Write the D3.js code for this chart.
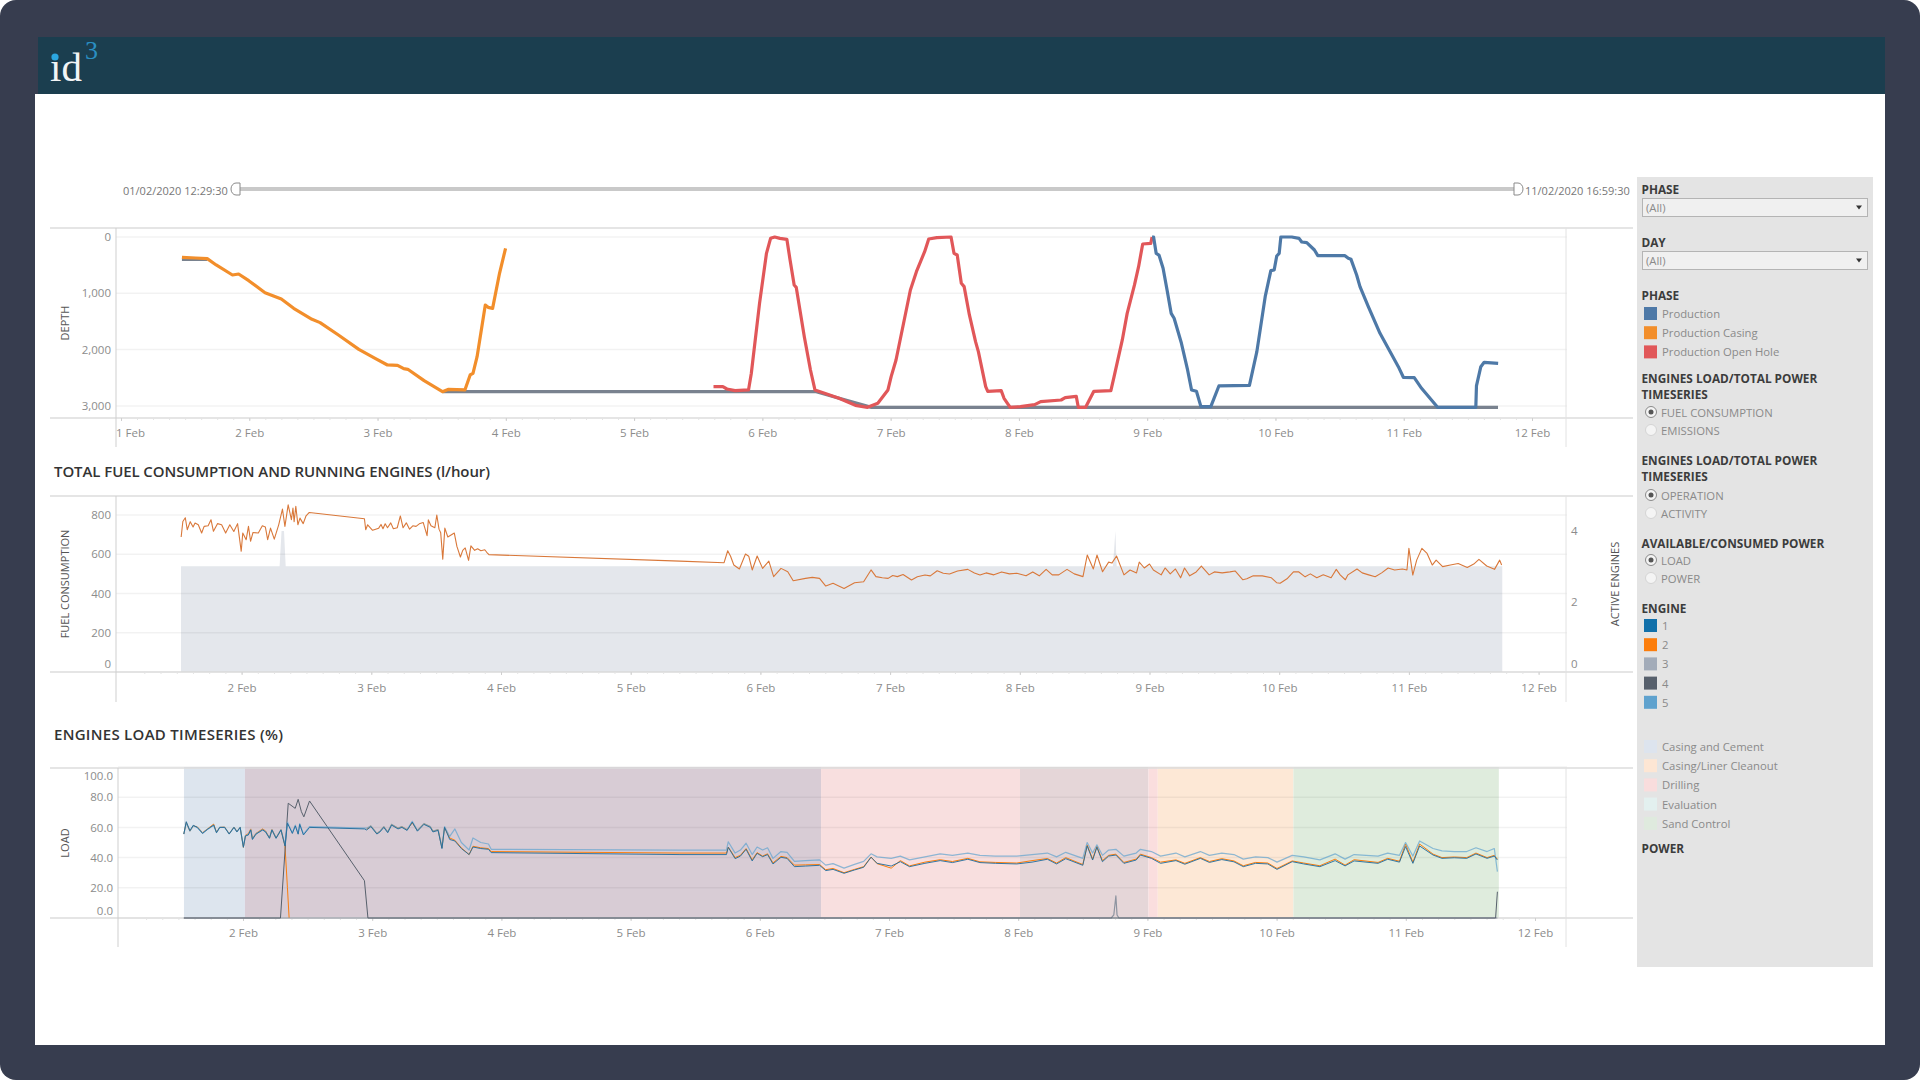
<!DOCTYPE html>
<html>
<head>
<meta charset="utf-8">
<title>Engines dashboard</title>
<script src="https://cdn.jsdelivr.net/npm/d3@7"></script>
<style>
  html, body { margin: 0; background: #fff; overflow: hidden; }
  svg { display: block; font-family: "Open Sans", sans-serif; }
  .tick text { fill: #8c8c8c; font-size: 11.5px; font-family: "Open Sans", sans-serif; }
  .axisTitle { fill: #555; font-size: 11px; text-anchor: middle; }
  .chartTitle { fill: #333; font-size: 15px; font-weight: 600; }
  .sideHead { fill: #3c3c3c; font-size: 11.8px; font-weight: 700; }
  .sideText { fill: #8a8a8a; font-size: 11.3px; }
</style>
</head>
<body>
<div id="dashboard"></div>
<script>
var svgWidth = 1920;
var svgHeight = 1080;

// depth chart
var casingDays = [1.475,1.583,1.672,1.742,1.869,1.917,1.996,2.123,2.25,2.346,2.489,2.552,2.695,2.854,2.981,3.077,3.156,3.204,3.236,3.363,3.506,3.554,3.681,3.722,3.744,3.776,3.84,3.862,3.897,3.951,3.998];
var casingDepth = [361,373,385,497,675,657,776,989,1101,1267,1462,1521,1740,1995,2155,2273,2279,2338,2350,2552,2747,2705,2717,2451,2421,2125,1208,1249,1267,645,201];
var openHoleDays = [5.619,5.692,5.724,5.787,5.892,5.914,5.978,6.032,6.064,6.096,6.137,6.191,6.216,6.248,6.264,6.327,6.375,6.41,6.502,6.597,6.725,6.82,6.9,6.979,7.004,7.042,7.106,7.154,7.201,7.265,7.297,7.36,7.471,7.494,7.519,7.551,7.573,7.614,7.662,7.684,7.741,7.757,7.862,7.884,7.932,8.012,8.123,8.17,8.329,8.361,8.447,8.463,8.52,8.584,8.717,8.742,8.806,8.844,8.901,8.933,8.965,9.028,9.038];
var openHoleDepth = [2658,2658,2700,2729,2717,2421,1178,290,24,0,24,41,408,852,894,1770,2362,2717,2788,2865,2990,3025,2954,2717,2480,2184,1474,941,616,260,36,12,0,290,320,823,882,1385,1859,2036,2658,2741,2729,2865,3025,3013,2978,2924,2895,2853,2830,3025,3025,2741,2729,2480,1829,1356,852,527,124,112,0];
var productionDays = [9.038,9.05,9.07,9.092,9.124,9.155,9.187,9.21,9.267,9.315,9.346,9.384,9.419,9.496,9.559,9.797,9.855,9.92,9.964,9.99,10.01,10.029,10.042,10.127,10.184,10.205,10.244,10.304,10.33,10.542,10.568,10.589,10.633,10.659,10.724,10.815,10.958,10.997,11.082,11.139,11.264,11.562,11.567,11.601,11.627,11.736];
var productionDepth = [0,0,290,320,556,941,1356,1444,1888,2362,2717,2741,3013,3013,2646,2634,2036,1060,598,586,337,290,0,0,24,89,100,231,331,331,379,397,675,882,1237,1711,2303,2492,2498,2688,3025,3025,2646,2303,2226,2244];
var holeDays = [1.475,1.672,2,3.506,6.42,6.85,11.735];
var holeDepth = [400,400,null,2747,2748,3026,3026];

// fuel chart
var fuelDays = [
  1.534,1.547,1.566,1.581,1.604,1.626,1.641,1.666,1.692,1.711,
  1.742,1.764,1.783,1.814,1.846,1.877,1.909,1.94,1.969,1.997,
  2.009,2.035,2.053,2.069,2.088,2.129,2.16,2.183,2.201,2.223,
  2.252,2.286,2.315,2.334,2.359,2.384,2.396,2.405,2.418,2.434,
  2.45,2.475,2.497,2.522,2.947,2.957,2.972,3.01,3.057,3.075,
  3.09,3.107,3.125,3.15,3.17,3.2,3.224,3.245,3.27,3.295,
  3.32,3.345,3.37,3.4,3.43,3.44,3.46,3.49,3.505,3.522,
  3.535,3.551,3.567,3.59,3.64,3.66,3.687,3.705,3.724,3.75,
  3.768,3.797,3.82,3.845,3.875,3.89,3.907,5.38,5.72,5.748,
  5.77,5.795,5.838,5.885,5.91,5.937,5.975,6.017,6.065,6.102,
  6.159,6.211,6.253,6.348,6.4,6.456,6.504,6.56,6.6,6.645,
  6.726,6.796,6.853,6.891,6.94,6.985,7.02,7.056,7.1,7.165,
  7.21,7.269,7.31,7.363,7.41,7.458,7.52,7.599,7.65,7.693,
  7.74,7.8,7.86,7.92,7.977,8.048,8.1,8.15,8.203,8.25,
  8.3,8.364,8.42,8.487,8.52,8.567,8.595,8.638,8.685,8.71,
  8.746,8.803,8.85,8.9,8.921,8.96,9.0,9.03,9.09,9.12,
  9.16,9.2,9.24,9.27,9.31,9.36,9.4,9.46,9.5,9.56,
  9.62,9.66,9.72,9.75,9.8,9.87,9.94,9.98,10.007,10.06,
  10.11,10.149,10.2,10.24,10.29,10.34,10.4,10.44,10.47,10.51,
  10.53,10.6,10.64,10.69,10.74,10.79,10.84,10.89,10.95,10.985,
  11.0,11.03,11.06,11.1,11.14,11.18,11.21,11.26,11.32,11.38,
  11.45,11.5,11.54,11.6,11.66,11.7,11.715
];
var fuelValues = [
  688,767,786,725,766,739,759,750,708,742,
  745,776,717,756,750,708,750,716,756,615,
  708,674,742,666,711,708,745,739,674,733,
  677,750,830,742,852,776,835,766,844,750,
  784,756,796,813,781,725,750,722,733,752,
  730,755,735,760,730,735,795,735,760,728,
  745,742,755,762,695,775,745,735,800,728,
  710,575,733,688,708,640,586,620,632,569,
  643,620,628,618,623,610,598,565,557,618,
  590,545,525,601,590,520,591,528,565,486,
  528,511,465,477,482,477,438,452,440,426,
  455,460,520,486,480,477,492,486,497,469,
  485,494,490,516,503,499,515,523,505,494,
  505,495,510,500,503,490,510,490,523,495,
  495,523,500,486,596,525,596,511,560,555,
  591,495,520,505,560,530,550,520,495,530,
  500,525,480,530,490,510,540,495,510,505,
  510,515,470,475,490,490,480,455,452,475,
  510,511,485,500,480,495,480,523,495,470,
  495,525,505,495,485,505,530,520,525,520,
  630,494,570,630,604,545,570,537,545,553,
  533,550,574,540,523,570,545
];
var engineDays = [1.533,2.293,2.308,2.327,2.34,8.718,8.737,8.747,11.72];
var engineCount = [3,3,4,4,3,3,4,3,3];

// load chart
var loadDays = [
  1.542,1.561,1.589,1.615,1.646,1.687,1.725,1.773,1.795,1.82,
  1.858,1.893,1.93,1.953,1.978,2.003,2.019,2.041,2.06,2.073,
  2.1,2.152,2.175,2.205,2.224,2.256,2.294,2.325,2.344,2.357,
  2.382,2.405,2.427,2.439,2.468,2.515,2.94,2.957,2.99,3.036,
  3.06,3.09,3.12,3.15,3.2,3.23,3.27,3.31,3.35,3.4,
  3.45,3.47,3.51,3.54,3.56,3.6,3.64,3.69,3.75,3.78,
  3.84,3.9,3.921,5.382,5.742,5.756,5.809,5.85,5.894,5.941,
  5.979,6.022,6.06,6.102,6.164,6.211,6.268,6.354,6.463,6.51,
  6.567,6.652,6.733,6.804,6.861,6.908,7.017,7.088,7.159,7.278,
  7.396,7.491,7.61,7.704,7.823,7.989,8.107,8.226,8.297,8.368,
  8.5,8.534,8.576,8.609,8.652,8.7,8.756,8.818,8.913,8.946,
  9.031,9.102,9.221,9.29,9.41,9.48,9.576,9.67,9.742,9.837,
  9.932,10.003,10.121,10.21,10.335,10.453,10.53,10.6,10.785,10.86,
  10.951,10.998,11.055,11.107,11.211,11.28,11.375,11.472,11.543,11.629,
  11.685,11.709
];
var engine1Load = [
  55.6,63.8,57.8,61.4,60,56,58.7,61.6,56.5,60,
  60,55.6,60,57,60,46.8,54.3,55,58.3,52,
  55.5,58.3,57,52.8,58.3,52.8,58.3,47.7,62.7,60.5,
  56,61,55.5,62,55,60,59,58.3,60.5,55.6,
  57,60,56.5,61.5,59,60,58,63.5,57.5,62,
  60,57,58,46,60,52,51,46,42,47,
  46,45.5,43.3,42,42,46.8,39.3,41,45.5,37.8,
  42.8,40.6,42,35.8,40.2,39.5,34,34.4,34.9,31.4,
  32.2,29.6,31.8,33.6,40.2,36.2,34.4,37.3,34,36.2,
  38,36.7,38.9,36.7,36.2,35.8,37,38.9,35.8,39.3,
  34.9,47.7,38.4,46.8,37.3,41,41.7,36.2,38.4,41.7,
  39.5,36.2,38,35.6,39.5,36.8,38.7,37.2,34,36.2,
  35.8,32.2,37.3,35.8,34,38,34.5,37.8,36.2,38.9,
  37,47.3,36.2,47.7,41.7,39.5,39.9,39.5,42.4,39.5,
  41,38.4
];
var engine2Load = [
  55.6,63.2,57.5,61,60.4,56.5,59,62.2,56.8,60,
  60.2,55.8,60.2,57.4,60,46.8,54.8,55.8,59,52.5,
  56,59,57.6,53,58.6,53,58.5,47.7,20,0,
  null,null,null,null,null,null,null,59,61,56,
  57.5,60.5,57,62,59.5,60.5,58.5,63,58,62.5,
  60.5,57.5,58.5,46.5,60,53,51.5,46.5,42,47.5,
  46.5,46,44,43,43,47,40,41.5,46,38.5,
  43.3,41,42.5,36.5,40.8,40,35,35.2,35.4,32,
  32.8,30,32.2,34,40.4,36,33,38,34.5,37,
  38.6,37.4,39.5,37.2,36.8,36.4,38,39.4,36.4,40,
  35.4,48.4,39,47.5,38,41.5,42.3,36.8,39,42.3,
  40,37,38.5,36.2,40,37.4,39.3,37.8,34.6,36.8,
  36.4,32.8,37.8,36.4,34.6,39,35,38.6,36.8,39.5,
  37.6,49,37,49,42.3,40,40.4,40,43,40,
  41.5,39
];
var engine5Load = [
  55.6,63,57.6,61,60,56.2,58.8,61.2,56.6,60,
  60,55.8,60,57.2,60,47.5,54.5,55.2,58.5,52.5,
  55.8,58.5,57.2,53,58.5,53,58.5,48.5,63.5,61,
  56.5,61.5,56,62.5,55.5,60.5,59.5,59.5,61,56,
  57.5,60.5,57,62,59.5,60.5,58.5,64,58,62.5,
  60.5,57.5,58.5,46.5,60.5,54,59,50,45,53,
  50,49,45.5,45,45,50.5,43,45,49.5,42,
  47,45,46.5,39.5,44,43.5,37.5,38,38.5,35,
  36,33,35.5,37.5,42.5,40.5,39.5,41,38.5,40.5,
  42.5,41.5,43,41.5,41,41,42,43,40.5,43.5,
  39.5,50,43,48.5,41.5,45,45.5,41,43,45.5,
  44,41,43,40.5,44,41.5,43,42,39,40.5,
  40,37,41.5,40.5,38.5,42.5,39,42,41,43,
  41.5,50,41,51,46,44.5,44,44,46.5,44,
  46,30.7
];
var engine3Days = [1.542,8.72,8.74,8.756,8.765,8.78,11.709];
var engine3Load = [0,0,2,14.6,2,0,0];
var engine4Days = [1.542,2.29,2.35,2.404,2.427,2.452,2.471,2.515,2.94,2.967,11.695,11.709];
var engine4Load = [0,0,76,72.6,78.6,70.4,67,77.5,24.7,0,0,17.4];

var bandEdges = [1.543,2.015,6.474,8.014,9.008,9.08,10.13,11.72];
var bandColors = ["#dde5ee","#d8ccd5","#f8dfdf","#e5d6d8","#fadede","#fde8d6","#dfecdd"];

var dayTicks = [2,3,4,5,6,7,8,9,10,11,12];
var depthTicks = [0,1000,2000,3000];
var fuelTicks = [0,200,400,600,800];
var engineTicks = [0,2,4];
var loadTicks = [0,20,40,60,80,100];

var phaseNames = ["Production","Production Casing","Production Open Hole"];
var phaseColors = ["#4e79a7","#f28e2b","#e15759"];
var engineNames = ["1","2","3","4","5"];
var engineColors = ["#1170aa","#fc7d0b","#a3acb9","#57606c","#5fa2ce"];
var activityNames = ["Casing and Cement","Casing/Liner Cleanout","Drilling","Evaluation","Sand Control"];
var activityColors = ["#dde4ee","#fde6d4","#f9dddd","#e3f0ef","#dfeade"];

var svg = d3.select("#dashboard")
  .append("svg")
  .attr("width", svgWidth)
  .attr("height", svgHeight);

// frame and header
svg.append("rect").attr("width", svgWidth).attr("height", 1080).attr("rx", 16).attr("fill", "#373d4f");
svg.append("rect").attr("x", 35).attr("y", 94).attr("width", 1850).attr("height", 951).attr("fill", "#fff");
svg.append("rect").attr("x", 38).attr("y", 37).attr("width", 1847).attr("height", 57).attr("fill", "#1b3e4f");
svg.append("text").attr("x", 50).attr("y", 81).attr("fill", "#f2f4f5")
  .style("font-family", "'Liberation Serif', serif").style("font-size", "41px").text("id");
svg.append("circle").attr("cx", 55).attr("cy", 57).attr("r", 3.6).attr("fill", "#2ba6e0");
svg.append("text").attr("x", 85).attr("y", 59).attr("fill", "#2a8fc2")
  .style("font-family", "'Liberation Serif', serif").style("font-size", "26px").text("3");

// date slider
svg.append("rect").attr("x", 238).attr("y", 187).attr("width", 1276).attr("height", 4).attr("fill", "#c9c9c9");
svg.append("path").attr("d", "M240,183 h-4 a5,6 0 0 0 0,12 h4 z").attr("fill", "#fff").attr("stroke", "#8a8a8a");
svg.append("path").attr("d", "M1514,183 h4 a5,6 0 0 1 0,12 h-4 z").attr("fill", "#fff").attr("stroke", "#8a8a8a");
svg.append("text").attr("x", 123).attr("y", 195).attr("fill", "#777").style("font-size", "11px").text("01/02/2020 12:29:30");
svg.append("text").attr("x", 1525).attr("y", 195).attr("fill", "#777").style("font-size", "11px").text("11/02/2020 16:59:30");

function drawLine(g, x, y, days, values, color, width) {
  var line = d3.line()
    .defined(function (d) { return d[1] !== null; })
    .x(function (d) { return x(d[0]); })
    .y(function (d) { return y(d[1]); });
  return g.append("path")
    .datum(days.map(function (d, i) { return [d, values[i]]; }))
    .attr("fill", "none")
    .attr("stroke", color)
    .attr("stroke-width", width)
    .attr("stroke-linejoin", "round")
    .attr("d", line);
}

// frame lines, gridlines and axes shared by the three charts
function drawFrame(g, opt) {
  g.append("g").selectAll("line")
    .data(opt.yTicks)
    .enter()
    .append("line")
    .attr("x1", opt.axisX)
    .attr("x2", 1567)
    .attr("y1", function (d) { return opt.y(d); })
    .attr("y2", function (d) { return opt.y(d); })
    .attr("stroke", "rgba(0,0,0,0.05)")
    .attr("stroke-width", 1.5);

  [opt.top, opt.bottom].forEach(function (yPos) {
    g.append("line").attr("x1", 50).attr("x2", 1633).attr("y1", yPos).attr("y2", yPos)
      .attr("stroke", "#dcdcdc").attr("stroke-width", 1.6);
  });
  [opt.axisX, 1566].forEach(function (xPos, i) {
    g.append("line").attr("x1", xPos).attr("x2", xPos).attr("y1", opt.top).attr("y2", opt.foot)
      .attr("stroke", i === 0 ? "#cfcfcf" : "#e2e2e2").attr("stroke-width", 1);
  });

  var minor = g.append("g")
    .attr("transform", "translate(0," + opt.bottom + ")")
    .call(d3.axisBottom(opt.x).tickValues(d3.range(opt.minorFrom, 12.01, 0.125)).tickSize(2).tickFormat(""));
  minor.select(".domain").remove();
  minor.selectAll(".tick line").attr("stroke", "#e4e4e4");

  var bottomAxis = g.append("g")
    .attr("transform", "translate(0," + opt.bottom + ")")
    .call(d3.axisBottom(opt.x).tickValues(opt.xTicks).tickSize(3).tickPadding(opt.pad).tickFormat(function (d) { return d + " Feb"; }));
  bottomAxis.select(".domain").remove();
  bottomAxis.selectAll(".tick line").attr("stroke", "#cfcfcf");

  var leftAxis = g.append("g")
    .attr("transform", "translate(" + (opt.axisX - 5) + ",0)")
    .call(d3.axisLeft(opt.y).tickValues(opt.yTicks).tickSize(0).tickPadding(0).tickFormat(opt.yFormat));
  leftAxis.select(".domain").remove();
  return { bottomAxis: bottomAxis, leftAxis: leftAxis };
}

// chart 1, depth
var depthChart = svg.append("g");
var xDepth = d3.scaleLinear().domain([1, 12]).range([121, 1532]);
var yDepth = d3.scaleLinear().domain([0, 3000]).range([237, 405.9]);
var depthAxes = drawFrame(depthChart, {
  x: xDepth, y: yDepth, top: 228, bottom: 418, foot: 447, axisX: 116, minorFrom: 1, pad: 8,
  xTicks: [1].concat(dayTicks), yTicks: depthTicks, yFormat: d3.format(",")
});
depthAxes.bottomAxis.selectAll(".tick text").filter(function (d) { return d === 1; }).attr("dx", 9);
drawLine(depthChart, xDepth, yDepth, holeDays, holeDepth, "#79828f", 3.2);
drawLine(depthChart, xDepth, yDepth, casingDays, casingDepth, phaseColors[1], 3.2);
drawLine(depthChart, xDepth, yDepth, openHoleDays, openHoleDepth, phaseColors[2], 3.2);
drawLine(depthChart, xDepth, yDepth, productionDays, productionDepth, phaseColors[0], 3.2);
depthChart.append("text").attr("class", "axisTitle")
  .attr("transform", "translate(69,323) rotate(-90)").text("DEPTH");

// chart 2, fuel and running engines
var fuelChart = svg.append("g");
var xFuel = d3.scaleLinear().domain([2, 12]).range([241.6, 1538.6]);
var yFuel = d3.scaleLinear().domain([0, 800]).range([672, 515]);
var yEngines = d3.scaleLinear().domain([0, 4]).range([672, 531]);
var engineArea = d3.area()
  .x(function (d) { return xFuel(d[0]); })
  .y0(yEngines(0))
  .y1(function (d) { return yEngines(d[1]); });
fuelChart.append("path")
  .datum(engineDays.map(function (d, i) { return [d, engineCount[i]]; }))
  .attr("fill", "#e4e7ec")
  .attr("d", engineArea);
var fuelAxes = drawFrame(fuelChart, {
  x: xFuel, y: yFuel, top: 496, bottom: 672, foot: 702, axisX: 116, minorFrom: 1.25, pad: 9,
  xTicks: dayTicks, yTicks: fuelTicks, yFormat: d3.format("d")
});
fuelAxes.leftAxis.selectAll(".tick text").filter(function (d) { return d === 0; }).attr("dy", "-0.35em");
var rightAxis = fuelChart.append("g")
  .attr("transform", "translate(1571,0)")
  .call(d3.axisRight(yEngines).tickValues(engineTicks).tickSize(0).tickPadding(0).tickFormat(d3.format("d")));
rightAxis.select(".domain").remove();
rightAxis.selectAll(".tick text").filter(function (d) { return d === 0; }).attr("dy", "-0.35em");
drawLine(fuelChart, xFuel, yFuel, fuelDays, fuelValues, "#d9783a", 1.1);
fuelChart.append("text").attr("class", "axisTitle")
  .attr("transform", "translate(69,584) rotate(-90)").text("FUEL CONSUMPTION");
fuelChart.append("text").attr("class", "axisTitle")
  .attr("transform", "translate(1619,584) rotate(-90)").text("ACTIVE ENGINES");
fuelChart.append("text").attr("class", "chartTitle").attr("x", 54).attr("y", 477)
  .attr("textLength", 436)
  .text("TOTAL FUEL CONSUMPTION AND RUNNING ENGINES (l/hour)");

// chart 3, engine load
var loadChart = svg.append("g");
var xLoad = d3.scaleLinear().domain([2, 12]).range([243, 1535]);
var yLoad = d3.scaleLinear().domain([0, 100]).range([918, 767]);
loadChart.append("g").selectAll("rect")
  .data(bandColors)
  .enter()
  .append("rect")
  .attr("x", function (d, i) { return xLoad(bandEdges[i]); })
  .attr("width", function (d, i) { return xLoad(bandEdges[i + 1]) - xLoad(bandEdges[i]); })
  .attr("y", yLoad(100))
  .attr("height", yLoad(0) - yLoad(100))
  .attr("fill", function (d) { return d; });
var loadAxes = drawFrame(loadChart, {
  x: xLoad, y: yLoad, top: 768, bottom: 918, foot: 947, axisX: 118, minorFrom: 1.25, pad: 8,
  xTicks: dayTicks, yTicks: loadTicks, yFormat: d3.format(".1f")
});
loadAxes.leftAxis.selectAll(".tick text").attr("dy", function (d) {
  return d === 100 ? "1.05em" : d === 0 ? "-0.3em" : "0.32em";
});
drawLine(loadChart, xLoad, yLoad, loadDays, engine2Load, engineColors[1], 1);
drawLine(loadChart, xLoad, yLoad, engine3Days, engine3Load, "#8d94a0", 1.2);
drawLine(loadChart, xLoad, yLoad, engine4Days, engine4Load, engineColors[3], 1);
drawLine(loadChart, xLoad, yLoad, loadDays, engine5Load, engineColors[4], 1.2).attr("opacity", 0.7);
drawLine(loadChart, xLoad, yLoad, loadDays, engine1Load, "#1f6c9c", 1).attr("opacity", 0.9);
loadChart.append("text").attr("class", "axisTitle")
  .attr("transform", "translate(69,843) rotate(-90)").text("LOAD");
loadChart.append("text").attr("class", "chartTitle").attr("x", 54).attr("y", 740)
  .attr("textLength", 229)
  .text("ENGINES LOAD TIMESERIES (%)");

// side panel
var side = svg.append("g");
side.append("rect").attr("x", 1637).attr("y", 177).attr("width", 236).attr("height", 790).attr("fill", "#e4e4e4");

function sideHead(label, y) {
  side.append("text").attr("class", "sideHead").attr("x", 1641.5).attr("y", y).text(label);
}

function dropdown(y) {
  side.append("rect").attr("x", 1642.5).attr("y", y).attr("width", 225).attr("height", 18)
    .attr("fill", "#f0f0f0").attr("stroke", "#b4b4b4");
  side.append("text").attr("class", "sideText").attr("x", 1646).attr("y", y + 13).text("(All)");
  side.append("path").attr("d", "M1856," + (y + 7) + " h6 l-3,4 z").attr("fill", "#333");
}

function radio(label, cy, checked) {
  side.append("circle").attr("cx", 1651).attr("cy", cy).attr("r", 5.5)
    .attr("fill", "#f4f4f4").attr("stroke", checked ? "#8a8a8a" : "#d4d4d4");
  if (checked) {
    side.append("circle").attr("cx", 1651).attr("cy", cy).attr("r", 2.5).attr("fill", "#555");
  }
  side.append("text").attr("class", "sideText").attr("x", 1661).attr("y", cy + 4.5).text(label);
}

function legend(names, colors, top) {
  var rowHeight = 19.2;
  side.append("g").selectAll("rect")
    .data(colors)
    .enter()
    .append("rect")
    .attr("x", 1644).attr("width", 13).attr("height", 13)
    .attr("y", function (d, i) { return top + i * rowHeight; })
    .attr("fill", function (d) { return d; });
  side.append("g").selectAll("text")
    .data(names)
    .enter()
    .append("text")
    .attr("class", "sideText")
    .attr("x", 1662)
    .attr("y", function (d, i) { return top + 11 + i * rowHeight; })
    .text(function (d) { return d; });
}

sideHead("PHASE", 194);
dropdown(198.5);
sideHead("DAY", 247);
dropdown(251.5);
sideHead("PHASE", 300);
legend(phaseNames, phaseColors, 307);
sideHead("ENGINES LOAD/TOTAL POWER", 383);
sideHead("TIMESERIES", 399);
radio("FUEL CONSUMPTION", 412, true);
radio("EMISSIONS", 430, false);
sideHead("ENGINES LOAD/TOTAL POWER", 465);
sideHead("TIMESERIES", 481);
radio("OPERATION", 495, true);
radio("ACTIVITY", 513, false);
sideHead("AVAILABLE/CONSUMED POWER", 548);
radio("LOAD", 560, true);
radio("POWER", 578, false);
sideHead("ENGINE", 613);
legend(engineNames, engineColors, 619);
legend(activityNames, activityColors, 740);
sideHead("POWER", 853);
</script>
</body>
</html>
